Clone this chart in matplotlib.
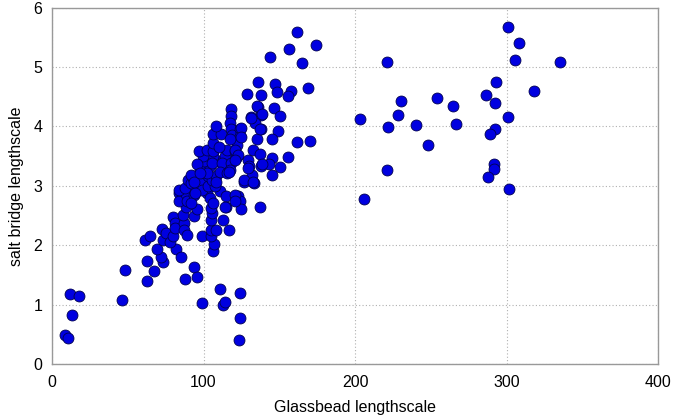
import matplotlib
matplotlib.use("Agg")
import matplotlib.pyplot as plt

plt.rcParams['font.family'] = ['Liberation Sans', 'DejaVu Sans']

# points
glassbead = [
    # low left outliers
    12, 18, 13, 8.5, 10.5, 46, 48,
    # low middle
    99, 111, 113, 114.5, 124, 124, 123.5, 94, 96, 88,
    # lower arm
    63, 67, 63, 73, 72, 69, 82, 85, 61.5, 65, 72.5, 73, 75, 78, 80, 80, 81, 81,
    87, 87, 89, 86.5, 93.5, 95.5, 99, 106, 107, 105, 105, 108.5, 105, 105.5, 105,
    113, 116.5, 115, 122.5, 124, 125, 137, 126.5, 133, 88.5, 84, 84, 88.5, 89,
    91, 93.5, 94.5, 92, 102, 104, 106.5, 111, 115, 114, 121, 121,
    # middle cluster
    83.5, 87.5, 90, 92, 93, 95.5, 99, 99, 94.5, 103, 107.5, 103, 105.5, 108.5,
    100, 97.5, 104, 100, 106.5, 110, 113, 114, 106.5, 99.5, 92, 93.5, 95.5,
    105.5, 112, 111, 115.5, 102, 97.5, 108.5, 97, 102.5, 106.5, 115.5, 106.5,
    110.5, 106, 111.5, 108.5, 118, 118, 117.5, 118, 118.5, 124, 124, 122, 121,
    121.5, 118, 117.5, 117, 122, 121, 123, 121, 117.5, 124.5, 124.5,
    # right of cluster
    128.5, 136, 138, 136, 146.5, 138, 150.5, 131.5, 134, 138, 149, 135.5, 145,
    162, 170.5, 132.5, 137, 145, 156, 129.5, 138, 143, 150.5, 130, 132, 145.5,
    126.5, 132.5, 129.5, 138.5, 135.5, 138.5, 131.5, 137.5,
    # top of cluster
    162, 174, 156.5, 144, 165, 147.5, 157.5, 148.5, 169, 156,
    # far right
    301, 308.5, 305.5, 335.5, 221, 293, 318, 286.5, 292.5, 301, 292.5, 289,
    292, 292, 287.5, 301.5, 254, 264.5, 266.5, 230, 228.5, 240, 222, 248,
    203, 221, 206,
]
saltbridge = [
    1.18, 1.15, 0.83, 0.49, 0.44, 1.07, 1.58,
    1.02, 1.26, 0.99, 1.04, 1.19, 0.77, 0.40, 1.64, 1.46, 1.43,
    1.39, 1.56, 1.74, 1.71, 1.81, 1.93, 1.93, 1.81, 2.09, 2.16, 2.27, 2.09, 2.20,
    2.06, 2.15, 2.48, 2.37, 2.29,
    2.38, 2.26, 2.18, 2.51, 2.50, 2.61, 2.15, 1.91, 2.02, 2.15, 2.26, 2.26, 2.43,
    2.54, 2.63,
    2.43, 2.26, 2.65, 2.83, 2.74, 2.61, 2.65, 3.07, 3.05, 2.65, 2.88, 2.75, 2.87,
    2.74,
    2.99, 2.85, 2.93, 2.71, 2.88, 2.79, 2.71, 2.91, 2.82, 2.64, 2.85, 2.75,
    2.93, 2.96, 3.10, 3.05, 3.13, 3.16, 3.10, 2.93, 2.88, 2.99, 2.99, 3.16, 3.10,
    3.16,
    3.24, 3.27, 3.33, 3.41, 3.44, 3.41, 3.38, 3.50, 3.50, 3.50, 3.19, 3.07, 3.36,
    3.38, 3.38, 3.24, 3.22, 3.22, 3.22, 3.07, 3.58, 3.60, 3.58, 3.61, 3.72,
    3.66, 3.87, 3.87, 4.01, 4.30, 4.17, 4.06, 3.96, 3.86, 3.96, 3.83, 3.69, 3.58,
    3.47, 3.38, 3.27, 3.24, 3.50, 3.61, 3.52, 3.44, 3.78, 3.97, 3.82,
    4.55, 4.74, 4.52, 4.33, 4.31, 4.19, 4.18, 4.15, 4.06, 3.95, 3.92, 3.78, 3.78,
    3.74, 3.76, 3.60, 3.54, 3.46, 3.49, 3.43, 3.34, 3.36, 3.32, 3.33, 3.19, 3.19,
    3.10, 3.06, 3.30, 3.36, 4.34, 4.20, 4.14, 3.95,
    5.58, 5.37, 5.31, 5.16, 5.07, 4.72, 4.60, 4.58, 4.65, 4.51,
    5.67, 5.40, 5.11, 5.08, 5.09, 4.74, 4.59, 4.52, 4.39, 4.15, 3.96, 3.88,
    3.37, 3.28, 3.14, 2.95, 4.48, 4.35, 4.04, 4.43, 4.19, 4.02, 3.99, 3.69,
    4.13, 3.27, 2.78,
]

x_ticks = [0, 100, 200, 300, 400]
y_ticks = [0, 1, 2, 3, 4, 5, 6]

fig = plt.figure(figsize=(6.75, 4.18), dpi=100)
ax = fig.add_axes([0.077, 0.129, 0.898, 0.853])

ax.scatter(glassbead, saltbridge, s=62, color='#0000e0', edgecolors='#000050',
           linewidths=0.6, zorder=3)

ax.set_xlim(0, 400)
ax.set_ylim(0, 6)
ax.set_xticks(x_ticks)
ax.set_yticks(y_ticks)
ax.grid(True, linestyle=(0, (1, 2)), color='#b0b0b0', linewidth=0.8)
ax.tick_params(axis='x', length=0, labelsize=11.5, pad=8)
ax.tick_params(axis='y', length=0, labelsize=11.5, pad=7)
for s in ax.spines.values():
    s.set_color('#999999')
    s.set_linewidth(1.0)

ax.set_xlabel('Glassbead lengthscale', fontsize=11.5, labelpad=7)
ax.set_ylabel('salt bridge lengthscale', fontsize=11.5, labelpad=7)

fig.savefig('out.png', dpi=100)
